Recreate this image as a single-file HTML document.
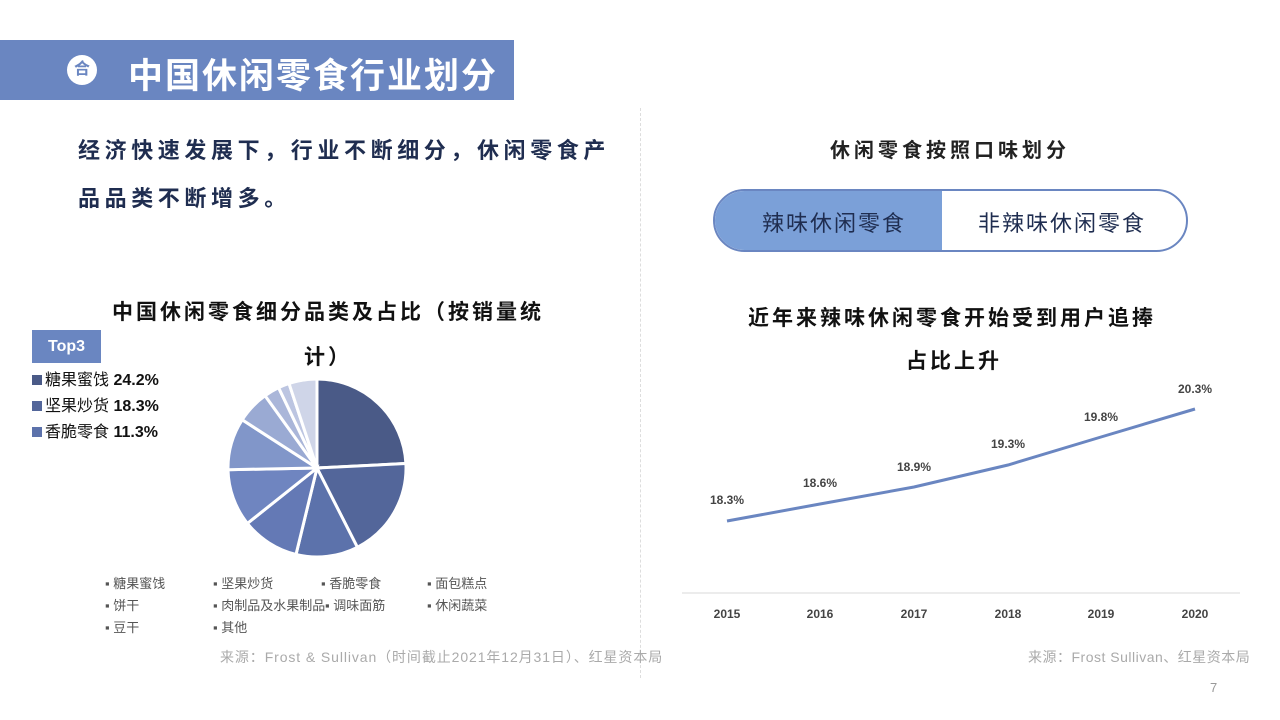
<!DOCTYPE html>
<html><head><meta charset="utf-8"><style>
body{margin:0;width:1280px;height:720px;background:#fff;position:relative;overflow:hidden;font-family:"Liberation Sans","Noto Sans CJK SC",sans-serif;}
.a{position:absolute;white-space:nowrap;}
</style></head><body>
<div class="a" style="left:0;top:40px;width:514px;height:60px;background:#6a86c1;"></div>
<div class="a" style="left:67px;top:55px;width:30px;height:30px;border-radius:50%;background:#fff;color:#6a86c1;font-size:16px;text-align:center;line-height:30px;font-weight:bold;">合</div>
<div class="a" style="left:128px;top:48px;font-size:35px;font-weight:bold;color:#fff;letter-spacing:2px;">中国休闲零食行业划分</div>
<div class="a" style="left:78px;top:127px;font-size:22px;font-weight:bold;color:#1f2d50;line-height:48px;letter-spacing:4.6px;">经济快速发展下，行业不断细分，休闲零食产<br>品品类不断增多。</div>
<div class="a" style="left:640px;top:108px;height:570px;border-left:1px dashed #ddd;"></div>
<div class="a" style="left:112px;top:296px;font-size:21px;font-weight:bold;color:#111;letter-spacing:3px;">中国休闲零食细分品类及占比（按销量统</div>
<div class="a" style="left:304px;top:341px;font-size:21px;font-weight:bold;color:#111;letter-spacing:3px;">计）</div>
<div class="a" style="left:32px;top:330px;width:69px;height:33px;background:#6a86c1;color:#fff;font-weight:bold;font-size:16px;text-align:center;line-height:33px;">Top3</div>
<div class="a" style="left:32px;top:368px;font-size:16px;color:#111;line-height:26px;">
<div><span style="display:inline-block;width:10px;height:10px;background:#4a5a87;margin-right:3px"></span>糖果蜜饯 <b>24.2%</b></div>
<div><span style="display:inline-block;width:10px;height:10px;background:#53669a;margin-right:3px"></span>坚果炒货 <b>18.3%</b></div>
<div><span style="display:inline-block;width:10px;height:10px;background:#5c72ab;margin-right:3px"></span>香脆零食 <b>11.3%</b></div></div>
<svg class="a" style="left:0;top:0" width="1280" height="720" id="s">
<polyline points="727,521 820,504 914,487 1008,465 1101,437 1195,409" fill="none" stroke="#6a86c1" stroke-width="3"/>
<line x1="682" y1="593" x2="1240" y2="593" stroke="#d9d9d9" stroke-width="1"/>
<g font-family="Liberation Sans" font-size="12" font-weight="bold" fill="#444" text-anchor="middle">
<text x="727" y="504">18.3%</text><text x="820" y="487">18.6%</text><text x="914" y="471">18.9%</text><text x="1008" y="448">19.3%</text><text x="1101" y="421">19.8%</text><text x="1195" y="393">20.3%</text>
<text x="727" y="618">2015</text><text x="820" y="618">2016</text><text x="914" y="618">2017</text><text x="1008" y="618">2018</text><text x="1101" y="618">2019</text><text x="1195" y="618">2020</text></g>
</svg>
<div class="a" style="left:105px;top:573px;font-size:13px;color:#555;line-height:22px;width:420px;">
<span class="a" style="left:0;top:0">▪ 糖果蜜饯</span><span class="a" style="left:108px;top:0">▪ 坚果炒货</span><span class="a" style="left:216px;top:0">▪ 香脆零食</span><span class="a" style="left:322px;top:0">▪ 面包糕点</span>
<span class="a" style="left:0;top:22px">▪ 饼干</span><span class="a" style="left:108px;top:22px">▪ 肉制品及水果制品</span><span class="a" style="left:220px;top:22px">▪ 调味面筋</span><span class="a" style="left:322px;top:22px">▪ 休闲蔬菜</span>
<span class="a" style="left:0;top:44px">▪ 豆干</span><span class="a" style="left:108px;top:44px">▪ 其他</span></div>
<div class="a" style="left:220px;top:647px;font-size:14px;color:#aaa;letter-spacing:0.9px;">来源：Frost &amp; Sullivan（时间截止2021年12月31日）、红星资本局</div>
<div class="a" style="left:1028px;top:647px;font-size:14px;color:#aaa;letter-spacing:0.5px;">来源：Frost Sullivan、红星资本局</div>
<div class="a" style="left:1210px;top:680px;font-size:13px;color:#999;">7</div>
<div class="a" style="left:830px;top:134px;font-size:20px;font-weight:bold;color:#222;letter-spacing:4px;">休闲零食按照口味划分</div>
<div class="a" style="left:713px;top:189px;width:475px;height:63px;border:2px solid #6a86c1;border-radius:32px;overflow:hidden;box-sizing:border-box;">
<div class="a" style="left:0;top:0;width:227px;height:59px;background:#7ba0d8;"></div></div>
<div class="a" style="left:762px;top:206px;font-size:22px;color:#1f2d50;letter-spacing:2px;">辣味休闲零食</div>
<div class="a" style="left:978px;top:206px;font-size:22px;color:#1f2d50;letter-spacing:2px;">非辣味休闲零食</div>
<div class="a" style="left:748px;top:302px;font-size:21px;font-weight:bold;color:#111;letter-spacing:3px;">近年来辣味休闲零食开始受到用户追捧</div>
<div class="a" style="left:906px;top:345px;font-size:21px;font-weight:bold;color:#111;letter-spacing:3px;">占比上升</div>
<script>
var v=[24.2,18.3,11.3,10.5,10.4,9.4,6,2.8,2,5.1];
var c=["#4a5a87","#53669a","#5c72ab","#6479b5","#6f85c0","#8196c9","#9aaad3","#aab6d9","#bcc5e1","#cfd5e8"];
var s=document.getElementById('s'),t=v.reduce((a,b)=>a+b),a0=0,cx=317,cy=468,r=89,h='';
v.forEach(function(x,i){var a1=a0+x/t*2*Math.PI;
var p=function(a){return (cx+r*Math.sin(a)).toFixed(1)+','+(cy-r*Math.cos(a)).toFixed(1)};
h+='<path d="M'+cx+','+cy+' L'+p(a0)+' A'+r+','+r+' 0 '+(a1-a0>Math.PI?1:0)+' 1 '+p(a1)+' Z" fill="'+c[i]+'" stroke="#fff" stroke-width="3"/>';a0=a1;});
s.insertAdjacentHTML('beforeend',h);
</script>
</body></html>
